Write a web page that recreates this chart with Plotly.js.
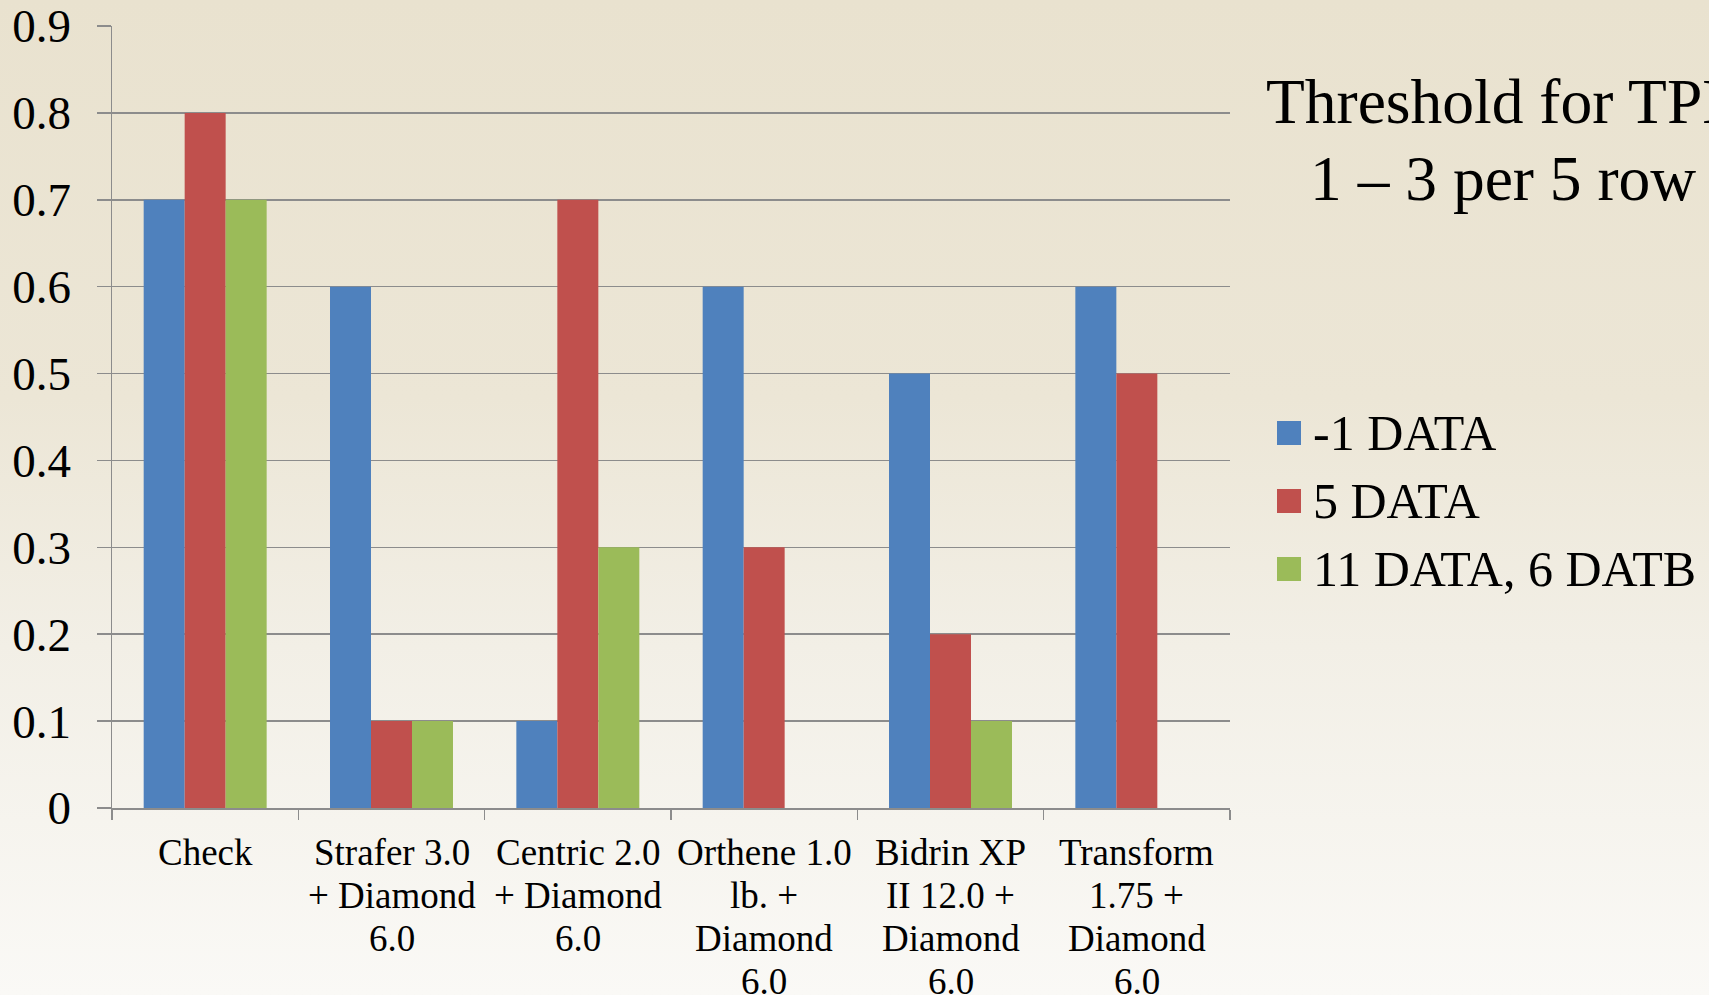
<!DOCTYPE html>
<html>
<head>
<meta charset="utf-8">
<script src="https://cdn.plot.ly/plotly-3.0.1.min.js"></script>
<style>
html, body { margin:0; padding:0; width:1709px; height:995px; overflow:hidden;
  background: linear-gradient(to bottom, #E9E2CF 0%, #ECE6D6 40%, #F2EFE6 65%, #FAF9F6 100%); }
#chart { width:1709px; height:995px; }
</style>
</head>
<body>
<div id="chart"></div>
<script>
const categories = [
  "Check",
  "Strafer 3.0<br>+ Diamond<br>6.0",
  "Centric 2.0<br>+ Diamond<br>6.0",
  "Orthene 1.0<br>lb. +<br>Diamond<br>6.0",
  "Bidrin XP<br>II 12.0 +<br>Diamond<br>6.0",
  "Transform<br>1.75 +<br>Diamond<br>6.0"
];
const seriesNames = ["-1 DATA", "5 DATA", "11 DATA, 6 DATB"];
const minus1DATA = [0.7, 0.6, 0.1, 0.6, 0.5, 0.6];
const fiveDATA   = [0.8, 0.1, 0.7, 0.3, 0.2, 0.5];
const elevenDATA = [0.7, 0.1, 0.3, 0, 0.1, 0];
const yTicks = [0, 0.1, 0.2, 0.3, 0.4, 0.5, 0.6, 0.7, 0.8, 0.9];
const titleLines = ["Threshold for TPB", "1 \u2013 3 per 5 row ft"];

const colors = ["#4F81BD", "#C0504D", "#9BBB59"];
const FONT = "Liberation Serif";

// plot area in pixels
const W = 1709, H = 995;
const L = 112, R = 1230, T = 26, B = 808;
const px = x => (x - L) / (R - L);
const py = y => (B - y) / (B - T);

const allSeries = [minus1DATA, fiveDATA, elevenDATA];
const traces = allSeries.map((vals, i) => ({
  type: "bar", x: categories, y: vals, name: seriesNames[i],
  marker: { color: colors[i], line: { width: 0 } },
  showlegend: false, hoverinfo: "skip"
}));

const shapes = [];
const annotations = [];

// category labels, one annotation per line (to match the tight line spacing)
const labelLineY = [852, 895, 938.5, 981.5];
categories.forEach((c, i) => {
  c.split("<br>").forEach((line, j) => {
    annotations.push({ xref: "x", yref: "paper", x: c, y: py(labelLineY[j]),
      xanchor: "center", yanchor: "middle", showarrow: false, text: line,
      font: { family: FONT, size: 37, color: "#000" } });
  });
});

const legendRows = [433, 501, 569];
seriesNames.forEach((n, i) => {
  const cy = legendRows[i];
  shapes.push({ type: "rect", xref: "paper", yref: "paper",
    x0: px(1277), x1: px(1301), y0: py(cy + 12), y1: py(cy - 12),
    fillcolor: colors[i], line: { width: 0 } });
  annotations.push({ xref: "paper", yref: "paper", x: px(1311), y: py(cy),
    xanchor: "left", yanchor: "middle", showarrow: false, text: n,
    font: { family: FONT, size: 50, color: "#000" } });
});
annotations.push({ xref: "paper", yref: "paper", x: px(1264), y: py(101),
  xanchor: "left", yanchor: "middle", showarrow: false, text: titleLines[0],
  font: { family: FONT, size: 63.5, color: "#000" } });
annotations.push({ xref: "paper", yref: "paper", x: px(1308), y: py(178),
  xanchor: "left", yanchor: "middle", showarrow: false, text: titleLines[1],
  font: { family: FONT, size: 63.5, color: "#000" } });

const layout = {
  width: W, height: H,
  margin: { l: L, r: W - R, t: T, b: H - B, pad: 0 },
  paper_bgcolor: "rgba(0,0,0,0)", plot_bgcolor: "rgba(0,0,0,0)",
  barmode: "group", bargap: 0.34, bargroupgap: 0,
  font: { family: FONT, color: "#000" },
  xaxis: {
    type: "category", tickson: "boundaries", ticks: "outside", ticklen: 10,
    tickcolor: "#8C8C8C", tickwidth: 1.5, showline: true, linecolor: "#8C8C8C",
    linewidth: 1.5, showgrid: false, showticklabels: false, fixedrange: true
  },
  yaxis: {
    range: [0, 0.9], tickvals: yTicks, ticktext: yTicks.map(String),
    ticks: "outside", ticklen: 14, tickcolor: "#8C8C8C", tickwidth: 1.5,
    showline: true, linecolor: "#8C8C8C", linewidth: 1.5,
    showgrid: true, gridcolor: "#8C8C8C", gridwidth: 1.5, zeroline: false,
    tickfont: { family: FONT, size: 47, color: "#000" }, ticklabelstandoff: 16,
    ticklabeloverflow: "allow", automargin: false,
    fixedrange: true
  },
  shapes: shapes, annotations: annotations
};

Plotly.newPlot("chart", traces, layout, { displayModeBar: false, staticPlot: true });
</script>
</body>
</html>
